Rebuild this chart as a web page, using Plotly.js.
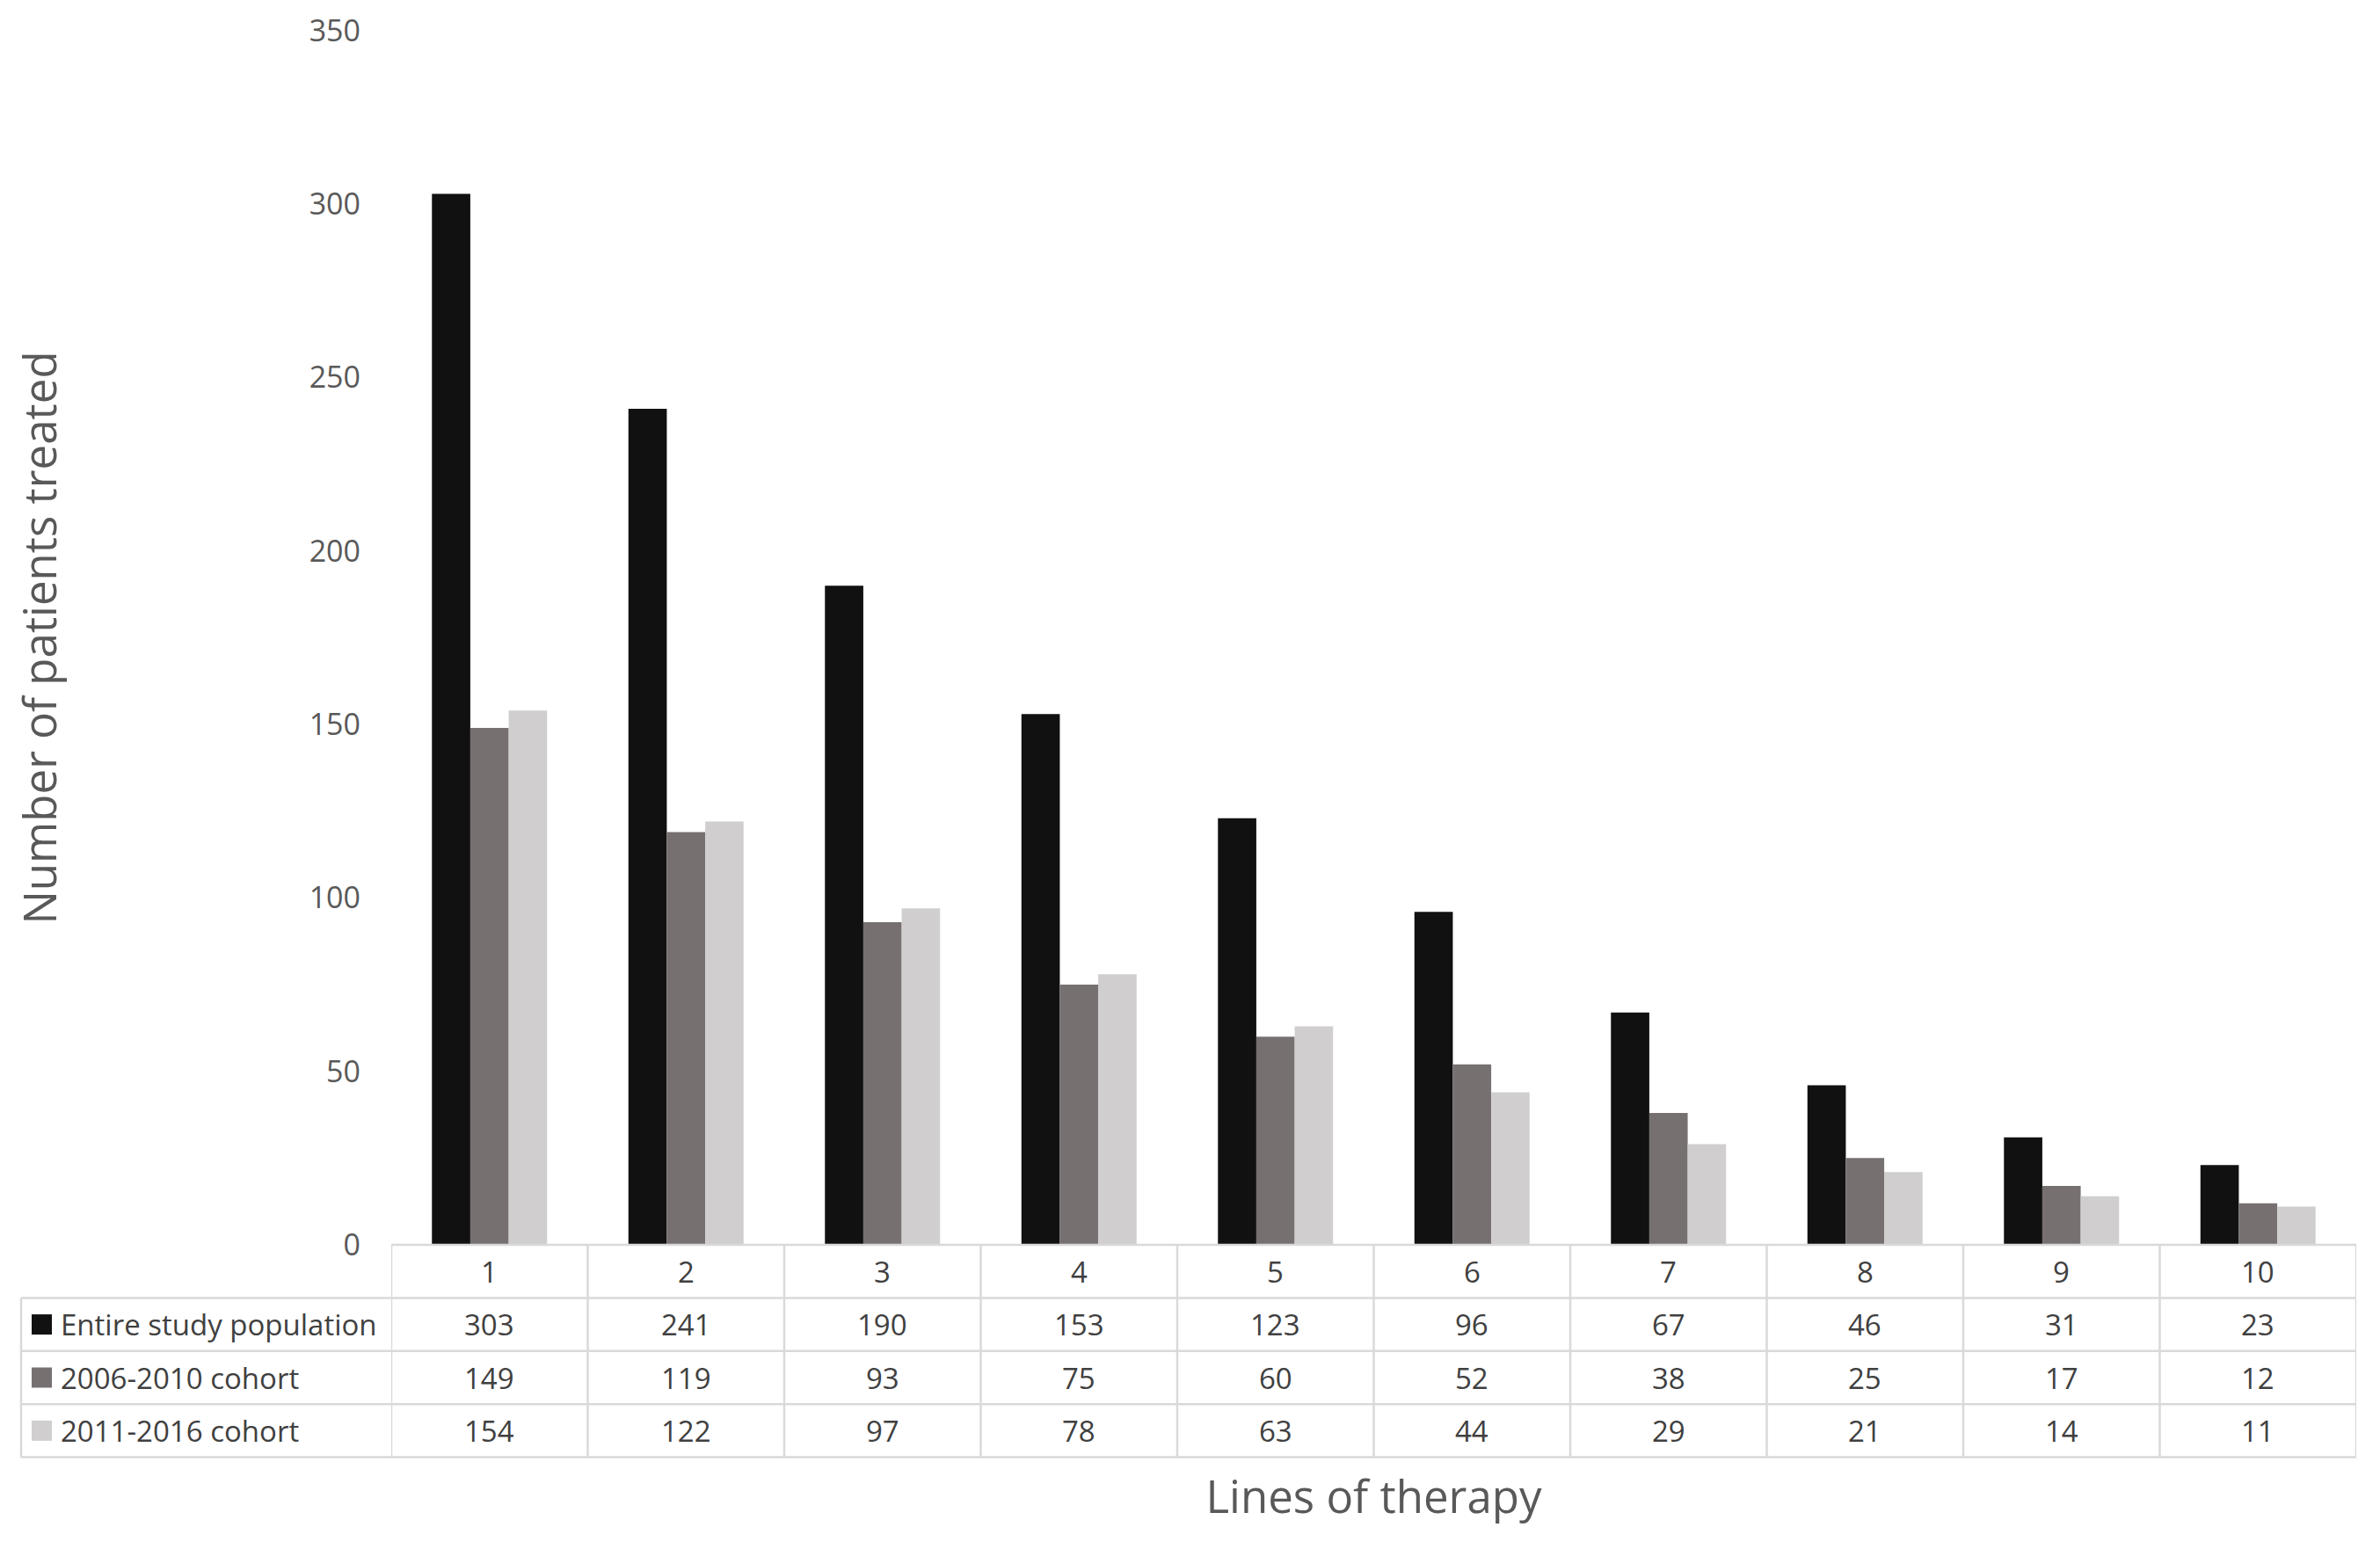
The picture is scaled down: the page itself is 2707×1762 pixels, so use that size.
<!DOCTYPE html>
<html>
<head>
<meta charset="utf-8">
<script src="https://cdn.plot.ly/plotly-3.0.1.min.js"></script>
<style>html,body{margin:0;padding:0;background:#fff;}</style>
</head>
<body>
<div id="chart" style="width:2707px;height:1762px;"></div>
<script>
// ---- data ----
const categories = ['1','2','3','4','5','6','7','8','9','10'];
const seriesNames = ['Entire study population','2006-2010 cohort','2011-2016 cohort'];
const entireStudy = [303,241,190,153,123,96,67,46,31,23];
const cohort2006 = [149,119,93,75,60,52,38,25,17,12];
const cohort2011 = [154,122,97,78,63,44,29,21,14,11];
const seriesValues = [entireStudy, cohort2006, cohort2011];
const seriesColors = ['#111111','#767170','#D0CECE'];

// ---- layout constants ----
const W = 2707, H = 1762;
const M = {l:445, r:27, t:35, b:346};
const plotW = W - M.l - M.r;
const plotH = H - M.t - M.b;
const rowPx = 60.4;
const rowP = rowPx / plotH;           // row height in paper units
const rowEdge = k => -k * rowP;
const rowMid = k => -(k + 0.5) * rowP;
const px2paperX = p => (p - M.l) / plotW;
const legendLeft = px2paperX(24);
const lineColor = '#D9D9D9';
const textColor = '#404040';
const font = 'Open Sans, Noto Sans, sans-serif';

const traces = seriesNames.map((name, s) => ({
  type: 'bar',
  name: name,
  x: categories,
  y: seriesValues[s],
  marker: {color: seriesColors[s], line: {width: 0}},
  hoverinfo: 'x+y+name'
}));

const shapes = [];
const annotations = [];
// vertical column lines
for (let i = 0; i <= categories.length; i++) {
  shapes.push({type:'line', xref:'x', yref:'paper', x0:i-0.5, x1:i-0.5, y0:rowEdge(0), y1:rowEdge(4),
    line:{color:lineColor, width:2.5}});
}
// header top line
shapes.push({type:'line', xref:'x', yref:'paper', x0:-0.5, x1:categories.length-0.5, y0:0, y1:0,
  line:{color:lineColor, width:2.5}});
// row lines incl. legend column
for (let k = 1; k <= 4; k++) {
  shapes.push({type:'line', xref:'paper', yref:'paper', x0:legendLeft, x1:1, y0:rowEdge(k), y1:rowEdge(k),
    line:{color:lineColor, width:2.5}});
}
shapes.push({type:'line', xref:'paper', yref:'paper', x0:legendLeft, x1:legendLeft, y0:rowEdge(1), y1:rowEdge(4),
  line:{color:lineColor, width:2.5}});

// header cells
categories.forEach((c, i) => {
  annotations.push({xref:'x', yref:'paper', x:i, y:rowMid(0), text:c, showarrow:false,
    xanchor:'center', yanchor:'middle', font:{family:font, size:33, color:textColor}});
});
// data cells + legend keys
seriesNames.forEach((name, s) => {
  const r = s + 1;
  shapes.push({type:'rect', xref:'paper', yref:'paper',
    x0:px2paperX(36), x1:px2paperX(59), y0:rowMid(r) - 11.5/plotH, y1:rowMid(r) + 11.5/plotH,
    fillcolor:seriesColors[s], line:{width:0}});
  annotations.push({xref:'paper', yref:'paper', x:px2paperX(67), y:rowMid(r), text:name, showarrow:false,
    xanchor:'left', yanchor:'middle', font:{family:font, size:33, color:textColor}});
  seriesValues[s].forEach((v, i) => {
    annotations.push({xref:'x', yref:'paper', x:i, y:rowMid(r), text:String(v), showarrow:false,
      xanchor:'center', yanchor:'middle', font:{family:font, size:33, color:textColor}});
  });
});

const layout = {
  width: W, height: H,
  margin: M,
  paper_bgcolor: '#ffffff',
  plot_bgcolor: '#ffffff',
  showlegend: false,
  barmode: 'group',
  bargap: 0.414,
  bargroupgap: 0,
  font: {family: font, color: '#595959'},
  xaxis: {
    type: 'category',
    showticklabels: false,
    ticks: '',
    showline: false,
    showgrid: false,
    zeroline: false,
    range: [-0.5, categories.length - 0.5],
    title: {text: 'Lines of therapy', font: {family: font, size: 51, color: '#595959'}, standoff: 269}
  },
  yaxis: {
    range: [0, 350],
    dtick: 50,
    tick0: 0,
    ticks: '',
    showline: false,
    showgrid: false,
    zeroline: false,
    ticklabelstandoff: 34,
    tickfont: {family: font, size: 34, color: '#595959'},
    title: {text: 'Number of patients treated', font: {family: font, size: 51, color: '#595959'}, standoff: 270}
  },
  shapes: shapes,
  annotations: annotations
};

Plotly.newPlot('chart', traces, layout, {displayModeBar: false, staticPlot: true});
</script>
</body>
</html>
